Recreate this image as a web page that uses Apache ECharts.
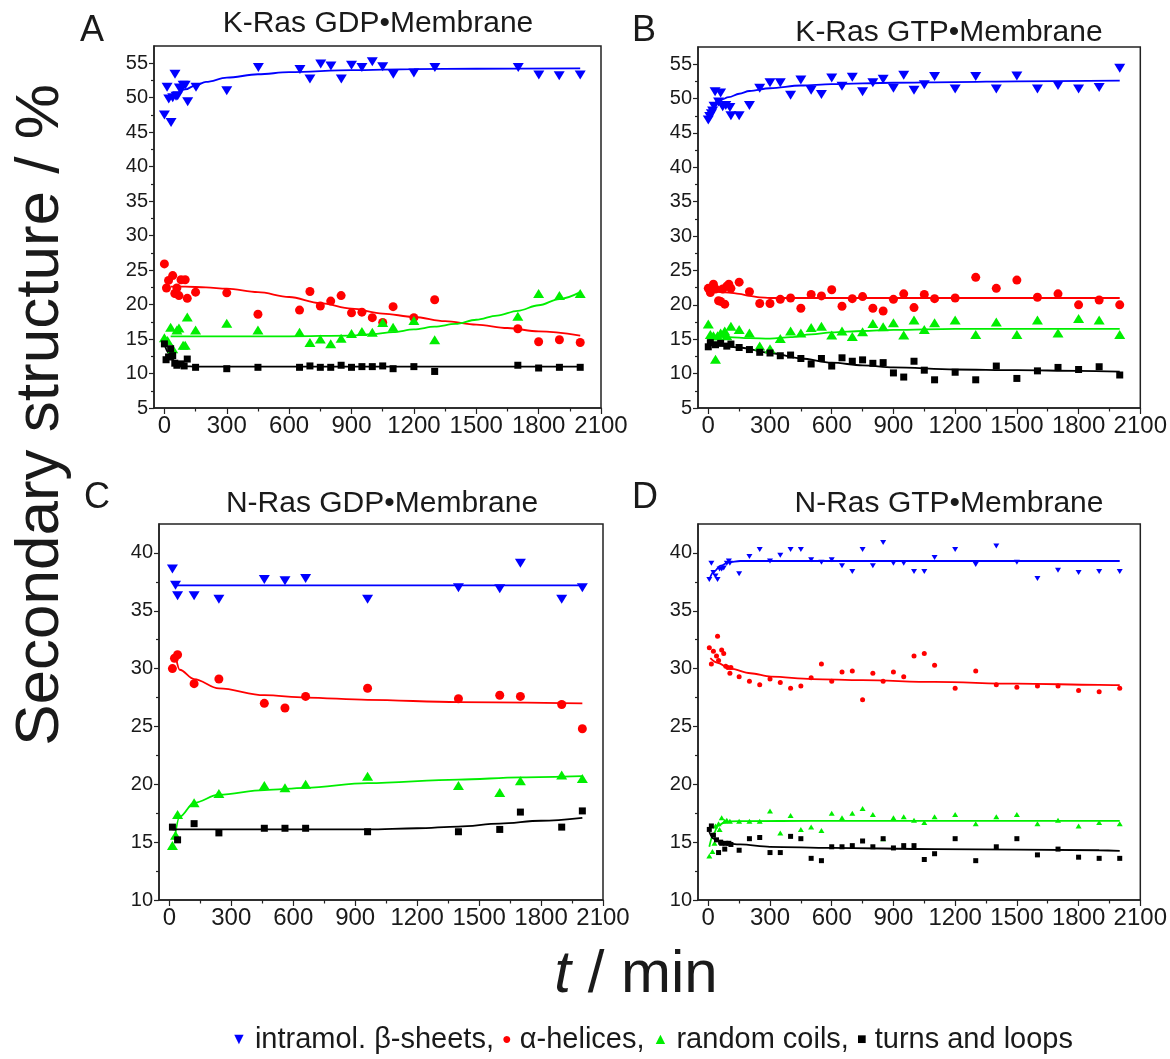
<!DOCTYPE html>
<html><head><meta charset="utf-8">
<script src="https://cdn.jsdelivr.net/npm/echarts@6/dist/echarts.min.js"></script>
<style>html,body{margin:0;padding:0;background:#fff}#c{width:1170px;height:1059px}</style>
</head><body><div id="c"></div>
<script>
// ---------- axis ticks ----------
const xTicks = [0, 300, 600, 900, 1200, 1500, 1800, 2100];
const xMinor = [150, 450, 750, 1050, 1350, 1650, 1950];
const yTicksTop = [5, 10, 15, 20, 25, 30, 35, 40, 45, 50, 55];
const yMinorTop = [7.5, 12.5, 17.5, 22.5, 27.5, 32.5, 37.5, 42.5, 47.5, 52.5];
const yTicksBot = [10, 15, 20, 25, 30, 35, 40];
const yMinorBot = [12.5, 17.5, 22.5, 27.5, 32.5, 37.5];

const panelTitles = ['K-Ras GDP•Membrane', 'K-Ras GTP•Membrane', 'N-Ras GDP•Membrane', 'N-Ras GTP•Membrane'];
const panelLetters = ['A', 'B', 'C', 'D'];

// ---------- Panel A ----------
const betaA_t = [0, 13, 21, 32, 40, 51, 56, 64, 72, 80, 90, 100, 112, 152, 300, 452, 652, 700, 752, 801, 851, 900, 950, 1000, 1050, 1101, 1200, 1301, 1702, 1801, 1899, 2000];
const betaA_v = [47.5, 51.5, 49.8, 46.4, 50.0, 53.4, 50.2, 50.3, 51.4, 51.2, 51.8, 51.8, 49.4, 51.5, 51.0, 54.4, 54.1, 52.7, 54.9, 54.6, 52.7, 54.7, 54.4, 55.2, 54.5, 53.4, 53.6, 54.4, 54.4, 53.3, 53.2, 53.3];
const alphaA_t = [0, 10, 20, 40, 50, 60, 70, 80, 100, 110, 150, 300, 450, 650, 700, 750, 800, 850, 900, 950, 1000, 1050, 1100, 1200, 1300, 1700, 1800, 1900, 2000];
const alphaA_v = [25.9, 22.4, 23.5, 24.2, 21.6, 22.4, 21.3, 23.6, 23.6, 20.9, 21.8, 21.7, 18.6, 19.2, 21.9, 19.8, 20.5, 21.3, 18.8, 18.9, 18.1, 17.4, 19.7, 18.1, 20.7, 16.5, 14.6, 14.9, 14.5];
const coilA_t = [0, 15, 30, 40, 60, 70, 90, 100, 110, 150, 300, 450, 650, 700, 750, 800, 850, 900, 950, 1000, 1050, 1100, 1200, 1300, 1700, 1800, 1900, 2000];
const coilA_v = [15.2, 14.8, 16.7, 13.6, 16.3, 16.6, 14.1, 14.1, 18.2, 16.3, 17.3, 16.3, 16.0, 14.5, 15.0, 14.3, 15.1, 15.8, 16.1, 16.0, 17.4, 16.7, 17.7, 14.9, 18.3, 21.6, 21.3, 21.6];
const turnA_t = [0, 8, 20, 30, 40, 50, 60, 80, 95, 110, 150, 300, 450, 650, 700, 750, 800, 850, 900, 950, 1000, 1050, 1100, 1200, 1300, 1700, 1800, 1900, 2000];
const turnA_v = [14.3, 12.0, 12.4, 13.6, 12.6, 11.5, 11.2, 11.4, 11.1, 12.1, 10.9, 10.7, 10.9, 10.9, 11.1, 10.9, 10.9, 11.2, 10.9, 11.0, 11.0, 11.1, 10.7, 11.0, 10.3, 11.2, 10.8, 10.9, 10.9];
// fitted curves
const betaAfit_t = [60, 100, 150, 200, 300, 450, 600, 900, 1200, 1500, 2000];
const betaAfit_v = [50.5, 51.2, 51.8, 52.3, 52.9, 53.4, 53.7, 54.0, 54.15, 54.2, 54.25];
const alphaAfit_t = [30, 100, 200, 300, 450, 600, 750, 900, 1050, 1200, 1350, 1500, 1650, 1800, 2000];
const alphaAfit_v = [22.6, 22.6, 22.5, 22.3, 21.8, 21.1, 20.2, 19.4, 18.7, 18.2, 17.6, 17.1, 16.6, 16.1, 15.5];
const coilAfit_t = [30, 300, 600, 900, 1000, 1100, 1200, 1300, 1400, 1500, 1600, 1700, 1800, 1900, 2000];
const coilAfit_v = [15.4, 15.4, 15.4, 15.5, 15.7, 16.0, 16.4, 16.8, 17.2, 17.8, 18.4, 19.1, 19.9, 20.8, 21.8];
const turnAfit_t = [0, 20, 40, 60, 80, 100, 150, 300, 1000, 2000];
const turnAfit_v = [14.3, 13.0, 12.0, 11.5, 11.2, 11.05, 11.0, 11.0, 11.0, 11.0];

// ---------- Panel B ----------
const betaB_t = [0, 7, 15, 21, 28, 33, 50, 60, 70, 85, 105, 110, 150, 200, 250, 300, 350, 400, 450, 500, 550, 600, 650, 700, 750, 800, 850, 900, 950, 1000, 1050, 1100, 1200, 1300, 1400, 1500, 1600, 1700, 1800, 1900, 2000];
const betaB_v = [46.9, 47.4, 47.8, 48.2, 48.9, 51.0, 49.5, 50.8, 48.8, 49.0, 48.7, 47.5, 47.5, 49.0, 51.5, 52.3, 52.3, 50.5, 52.7, 51.2, 50.6, 53.0, 51.8, 53.1, 51.0, 52.3, 52.8, 51.5, 53.4, 51.2, 52.0, 53.2, 51.4, 53.2, 51.4, 53.3, 51.4, 51.9, 51.4, 51.6, 54.4];
const alphaB_t = [0, 10, 25, 35, 50, 60, 70, 80, 90, 100, 110, 150, 200, 250, 300, 350, 400, 450, 500, 550, 600, 650, 700, 750, 800, 850, 900, 950, 1000, 1050, 1100, 1200, 1300, 1400, 1500, 1600, 1700, 1800, 1900, 2000];
const alphaB_v = [22.4, 21.8, 23.0, 22.3, 20.6, 20.5, 22.3, 20.1, 22.7, 23.0, 22.4, 23.3, 21.9, 20.2, 20.2, 20.8, 21.0, 19.5, 21.5, 21.3, 22.2, 19.8, 20.9, 21.2, 19.5, 19.1, 20.8, 21.6, 19.6, 21.5, 20.9, 21.0, 24.0, 22.4, 23.6, 21.1, 21.6, 20.0, 20.7, 20.0];
const coilB_t = [0, 10, 25, 35, 45, 60, 80, 90, 110, 150, 200, 250, 300, 350, 400, 450, 500, 550, 600, 650, 700, 750, 800, 850, 900, 950, 1000, 1050, 1100, 1200, 1300, 1400, 1500, 1600, 1700, 1800, 1900, 2000];
const coilB_v = [17.2, 15.7, 15.5, 12.1, 15.5, 15.9, 16.2, 15.5, 16.9, 16.4, 15.9, 14.0, 13.6, 15.1, 16.2, 15.9, 16.7, 16.9, 15.6, 16.2, 15.4, 16.1, 17.3, 16.8, 17.4, 15.6, 17.8, 16.4, 17.4, 17.8, 15.7, 17.5, 15.7, 17.8, 15.9, 18.0, 17.8, 15.7];
const turnB_t = [0, 10, 35, 60, 90, 110, 150, 200, 250, 300, 350, 400, 450, 500, 550, 600, 650, 700, 750, 800, 850, 900, 950, 1000, 1050, 1100, 1200, 1300, 1400, 1500, 1600, 1700, 1800, 1900, 2000];
const turnB_v = [13.9, 14.5, 14.2, 14.4, 14.0, 14.3, 13.8, 13.5, 13.1, 13.0, 12.6, 12.7, 12.2, 11.4, 12.2, 11.1, 12.3, 11.8, 12.0, 11.5, 11.6, 10.1, 9.5, 11.8, 10.5, 9.1, 10.2, 9.1, 11.1, 9.3, 10.4, 10.9, 10.6, 11.0, 9.8];
const betaBfit_t = [35, 60, 100, 150, 200, 300, 450, 600, 900, 1200, 1500, 2000];
const betaBfit_v = [49.5, 49.8, 50.2, 50.7, 51.1, 51.5, 51.9, 52.1, 52.3, 52.4, 52.5, 52.6];
const alphaBfit_t = [0, 100, 150, 200, 250, 300, 500, 1000, 2000];
const alphaBfit_v = [22.0, 21.8, 21.6, 21.3, 21.1, 21.0, 21.0, 21.0, 21.0];
const coilBfit_t = [0, 100, 200, 300, 400, 500, 600, 750, 900, 1200, 1500, 2000];
const coilBfit_v = [15.5, 15.3, 15.15, 15.1, 15.3, 15.7, 16.0, 16.2, 16.35, 16.5, 16.5, 16.5];
const turnBfit_t = [0, 150, 300, 450, 600, 750, 900, 1200, 1500, 1800, 2000];
const turnBfit_v = [14.6, 13.8, 13.0, 12.2, 11.6, 11.2, 10.9, 10.6, 10.5, 10.4, 10.3];

// ---------- Panel C ----------
const betaC_t = [15, 30, 40, 120, 240, 460, 560, 660, 960, 1400, 1600, 1700, 1900, 2000];
const betaC_v = [38.6, 37.2, 36.3, 36.3, 36.0, 37.7, 37.6, 37.8, 36.0, 37.0, 36.9, 39.1, 36.0, 37.0];
const alphaC_t = [15, 25, 40, 120, 240, 460, 560, 660, 960, 1400, 1600, 1700, 1900, 2000];
const alphaC_v = [30.0, 30.9, 31.2, 28.7, 29.1, 27.0, 26.6, 27.6, 28.3, 27.4, 27.7, 27.6, 26.9, 24.8];
const coilC_t = [15, 30, 40, 120, 240, 460, 560, 660, 960, 1400, 1600, 1700, 1900, 2000];
const coilC_v = [14.7, 15.6, 17.4, 18.4, 19.2, 19.9, 19.7, 20.0, 20.7, 19.9, 19.3, 20.3, 20.8, 20.5];
const turnC_t = [15, 40, 120, 240, 460, 560, 660, 960, 1400, 1600, 1700, 1900, 2000];
const turnC_v = [16.3, 15.2, 16.6, 15.8, 16.2, 16.2, 16.2, 15.9, 15.9, 16.1, 17.6, 16.3, 17.7];
const betaCfit_t = [30, 2000];
const betaCfit_v = [37.2, 37.2];
const alphaCfit_t = [35, 50, 120, 240, 460, 660, 960, 1400, 2000];
const alphaCfit_v = [30.7, 29.9, 29.1, 28.3, 27.7, 27.5, 27.3, 27.1, 27.0];
const coilCfit_t = [25, 50, 120, 240, 460, 660, 960, 1400, 1700, 2000];
const coilCfit_v = [15.2, 17.2, 18.4, 19.1, 19.5, 19.7, 20.1, 20.4, 20.6, 20.7];
const turnCfit_t = [15, 500, 960, 1200, 1400, 1600, 1800, 2000];
const turnCfit_v = [16.1, 16.1, 16.1, 16.2, 16.35, 16.6, 16.85, 17.1];

// ---------- Panel D ----------
const betaD_t = [5, 15, 25, 35, 45, 55, 65, 75, 90, 100, 105, 150, 200, 250, 300, 350, 400, 450, 500, 550, 600, 650, 700, 750, 800, 850, 900, 950, 1000, 1050, 1100, 1200, 1300, 1400, 1500, 1600, 1700, 1800, 1900, 2000];
const betaD_v = [37.7, 39.1, 38.3, 38.0, 37.7, 38.6, 38.6, 38.7, 39.1, 39.3, 39.1, 38.2, 39.7, 40.3, 39.3, 39.8, 40.3, 40.3, 39.4, 39.2, 39.4, 38.9, 38.4, 40.3, 38.9, 40.9, 39.1, 39.1, 38.4, 38.4, 39.6, 40.3, 39.0, 40.6, 39.2, 37.8, 38.5, 38.3, 38.4, 38.4];
const alphaD_t = [5, 15, 25, 40, 45, 50, 65, 75, 85, 95, 105, 110, 150, 200, 250, 300, 350, 400, 450, 500, 550, 600, 650, 700, 750, 800, 850, 900, 950, 1000, 1050, 1100, 1200, 1300, 1400, 1500, 1600, 1700, 1800, 1900, 2000];
const alphaD_v = [31.8, 30.4, 31.5, 31.1, 32.8, 30.7, 31.6, 31.3, 30.2, 30.1, 29.6, 30.1, 29.3, 28.9, 28.6, 29.1, 28.8, 28.3, 28.5, 29.2, 30.4, 28.9, 29.7, 29.8, 27.3, 29.6, 28.9, 29.7, 29.3, 31.1, 31.3, 30.3, 28.3, 29.8, 28.6, 28.4, 28.5, 28.5, 28.1, 28.0, 28.3];
const coilD_t = [5, 20, 30, 35, 50, 55, 65, 80, 90, 105, 150, 200, 250, 300, 350, 400, 450, 500, 550, 600, 650, 700, 750, 800, 850, 900, 950, 1000, 1050, 1100, 1200, 1300, 1400, 1500, 1600, 1700, 1800, 1900, 2000];
const coilD_v = [13.8, 14.2, 14.9, 16.4, 16.6, 16.1, 17.1, 16.8, 16.9, 16.8, 16.8, 16.8, 16.8, 17.7, 15.8, 17.3, 16.1, 16.3, 16.0, 17.5, 17.1, 17.5, 17.9, 17.4, 15.3, 17.1, 17.2, 16.9, 16.7, 17.2, 17.4, 16.6, 17.2, 17.4, 16.6, 16.9, 16.4, 16.7, 16.6];
const turnD_t = [5, 15, 25, 40, 50, 60, 65, 80, 85, 100, 110, 150, 200, 250, 300, 350, 400, 450, 500, 550, 600, 650, 700, 750, 800, 850, 900, 950, 1000, 1050, 1100, 1200, 1300, 1400, 1500, 1600, 1700, 1800, 1900, 2000];
const turnD_v = [16.1, 16.4, 15.6, 15.2, 14.1, 15.0, 14.9, 14.4, 14.9, 14.9, 14.8, 14.3, 15.3, 15.4, 14.1, 14.1, 15.5, 15.3, 13.6, 13.4, 14.6, 14.6, 14.7, 15.1, 14.6, 15.3, 14.5, 14.7, 14.7, 13.5, 14.0, 15.3, 13.4, 14.6, 15.3, 13.9, 14.4, 13.7, 13.6, 13.6];
const betaDfit_t = [5, 28, 60, 100, 155, 300, 1000, 2000];
const betaDfit_v = [37.7, 38.4, 38.9, 39.2, 39.3, 39.3, 39.3, 39.3];
const alphaDfit_t = [10, 45, 105, 205, 305, 505, 750, 1100, 1500, 1900, 2000];
const alphaDfit_v = [30.9, 30.5, 30.0, 29.6, 29.3, 29.1, 29.0, 28.85, 28.7, 28.6, 28.58];
const coilDfit_t = [5, 28, 45, 78, 106, 200, 500, 1000, 2000];
const coilDfit_v = [14.6, 15.8, 16.4, 16.7, 16.8, 16.82, 16.84, 16.84, 16.84];
const turnDfit_t = [5, 25, 45, 80, 155, 300, 600, 1100, 1900, 2000];
const turnDfit_v = [15.9, 15.3, 15.1, 14.9, 14.8, 14.6, 14.5, 14.4, 14.3, 14.25];

// ---------- build ----------
const zip = (t, v) => t.map((x, i) => [x, v[i]]);
const COL = { beta: '#0000ff', alpha: '#ff0000', coil: '#00ee00', turn: '#000000' };
const panels = [
  { grid: { left: 154, top: 46, width: 447, height: 362 }, ymin: 5, ymax: 57.5, yt: yTicksTop, ym: yMinorTop, big: true,
    pts: [[betaA_t, betaA_v], [alphaA_t, alphaA_v], [coilA_t, coilA_v], [turnA_t, turnA_v]],
    fit: [[betaAfit_t, betaAfit_v], [alphaAfit_t, alphaAfit_v], [coilAfit_t, coilAfit_v], [turnAfit_t, turnAfit_v]] },
  { grid: { left: 698, top: 47, width: 447, height: 361 }, ymin: 5, ymax: 57.5, yt: yTicksTop, ym: yMinorTop, big: true,
    pts: [[betaB_t, betaB_v], [alphaB_t, alphaB_v], [coilB_t, coilB_v], [turnB_t, turnB_v]],
    fit: [[betaBfit_t, betaBfit_v], [alphaBfit_t, alphaBfit_v], [coilBfit_t, coilBfit_v], [turnBfit_t, turnBfit_v]] },
  { grid: { left: 159, top: 524, width: 444, height: 376 }, ymin: 10, ymax: 42.5, yt: yTicksBot, ym: yMinorBot, big: true,
    pts: [[betaC_t, betaC_v], [alphaC_t, alphaC_v], [coilC_t, coilC_v], [turnC_t, turnC_v]],
    fit: [[betaCfit_t, betaCfit_v], [alphaCfit_t, alphaCfit_v], [coilCfit_t, coilCfit_v], [turnCfit_t, turnCfit_v]] },
  { grid: { left: 698, top: 524, width: 447, height: 376 }, ymin: 10, ymax: 42.5, yt: yTicksBot, ym: yMinorBot, big: false,
    pts: [[betaD_t, betaD_v], [alphaD_t, alphaD_v], [coilD_t, coilD_v], [turnD_t, turnD_v]],
    fit: [[betaDfit_t, betaDfit_v], [alphaDfit_t, alphaDfit_v], [coilDfit_t, coilDfit_v], [turnDfit_t, turnDfit_v]] }
];
const AX = '#222';
const plain = v => String(v);
const grid = [], xAxis = [], yAxis = [], series = [];
panels.forEach((p, i) => {
  grid.push(Object.assign({ show: true, borderColor: AX, borderWidth: 1.5, backgroundColor: 'transparent' }, p.grid));
  const xBase = { type: 'value', gridIndex: i, min: -50, max: 2100, position: 'bottom', splitLine: { show: false } };
  xAxis.push(Object.assign({}, xBase, {
    axisLine: { onZero: false, lineStyle: { color: AX, width: 1.5 } },
    axisTick: { length: 6, lineStyle: { color: AX, width: 1.2 }, customValues: xTicks },
    axisLabel: { customValues: xTicks, formatter: plain, margin: 6, color: '#1a1a1a', fontSize: 24, fontFamily: 'Liberation Sans Narrow, Liberation Sans, Arial' }
  }));
  xAxis.push(Object.assign({}, xBase, {
    axisLine: { show: false, onZero: false }, axisLabel: { show: false },
    axisTick: { length: 3.5, lineStyle: { color: AX, width: 1.2 }, customValues: xMinor }
  }));
  const yBase = { type: 'value', gridIndex: i, min: p.ymin, max: p.ymax, position: 'left', splitLine: { show: false } };
  yAxis.push(Object.assign({}, yBase, {
    axisLine: { show: true, onZero: false, lineStyle: { color: AX, width: 1.5 } },
    axisTick: { show: true, length: 5, lineStyle: { color: AX, width: 1.2 }, customValues: p.yt },
    axisLabel: { customValues: p.yt, formatter: plain, margin: 6, color: '#1a1a1a', fontSize: 20, fontFamily: 'Liberation Sans, Arial' }
  }));
  yAxis.push(Object.assign({}, yBase, {
    axisLine: { show: false, onZero: false }, axisLabel: { show: false },
    axisTick: { show: true, length: 3, lineStyle: { color: AX, width: 1.2 }, customValues: p.ym }
  }));
  const xi = 2 * i, yi = 2 * i;
  const keys = ['beta', 'alpha', 'coil', 'turn'];
  const sym = p.big
    ? [{ symbol: 'triangle', symbolRotate: 180, symbolSize: [11, 9] }, { symbol: 'circle', symbolSize: 9 }, { symbol: 'triangle', symbolSize: [11, 9] }, { symbol: 'rect', symbolSize: 7 }]
    : [{ symbol: 'triangle', symbolRotate: 180, symbolSize: [6, 5] }, { symbol: 'circle', symbolSize: 5 }, { symbol: 'triangle', symbolSize: [6, 5] }, { symbol: 'rect', symbolSize: 5 }];
  keys.forEach((k, j) => {
    series.push({ type: 'line', xAxisIndex: xi, yAxisIndex: yi, data: zip(p.fit[j][0], p.fit[j][1]), smooth: 0.35, smoothMonotone: 'x',
      showSymbol: false, symbol: 'none', lineStyle: { color: COL[k], width: 1.8 }, silent: true, z: 2 });
    series.push(Object.assign({ type: 'scatter', xAxisIndex: xi, yAxisIndex: yi, data: zip(p.pts[j][0], p.pts[j][1]),
      itemStyle: { color: COL[k], opacity: 1 }, silent: true, z: 3 }, sym[j]));
  });
});

const FONT = 'Liberation Sans, Arial, sans-serif';
const graphic = [];
const letterPos = [[80, 13], [632, 13], [84, 480], [632, 480]];
const titlePos = [[378, 24], [949, 33], [382, 504], [949, 504]];
panelLetters.forEach((L, i) => {
  graphic.push({ type: 'text', x: letterPos[i][0], y: letterPos[i][1], style: { text: L, font: '36px ' + FONT, fill: '#1a1a1a' } });
  graphic.push({ type: 'text', x: titlePos[i][0], y: titlePos[i][1], style: { text: panelTitles[i], font: '30px ' + FONT, fill: '#1a1a1a', textAlign: 'center', textVerticalAlign: 'middle' } });
});
graphic.push({ type: 'text', x: 41, y: 415, rotation: Math.PI / 2,
  style: { text: 'Secondary structure / %', font: '62px ' + FONT, fill: '#1a1a1a', textAlign: 'center', textVerticalAlign: 'middle' } });
graphic.push({ type: 'text', x: 636, y: 975,
  style: { text: '{i|t} / min', font: '60px ' + FONT, fill: '#1a1a1a', textAlign: 'center', textVerticalAlign: 'middle',
    rich: { i: { fontStyle: 'italic', font: 'italic 60px ' + FONT, fill: '#1a1a1a' } } } });
graphic.push({ type: 'text', x: 652, y: 1040,
  style: { text: '{b|▼} intramol. β-sheets, {r|●} α-helices, {g|▲} random coils, {k|■} turns and loops',
    font: '29px ' + FONT, fill: '#1a1a1a', textAlign: 'center', textVerticalAlign: 'middle',
    rich: { b: { fill: COL.beta, font: '16px ' + FONT }, r: { fill: COL.alpha, font: '16px ' + FONT },
            g: { fill: COL.coil, font: '16px ' + FONT }, k: { fill: COL.turn, font: '16px ' + FONT } } } });

const chart = echarts.init(document.getElementById('c'), null, { renderer: 'canvas' });
chart.setOption({ animation: false, backgroundColor: '#fff', grid, xAxis, yAxis, series, graphic });
</script></body></html>
